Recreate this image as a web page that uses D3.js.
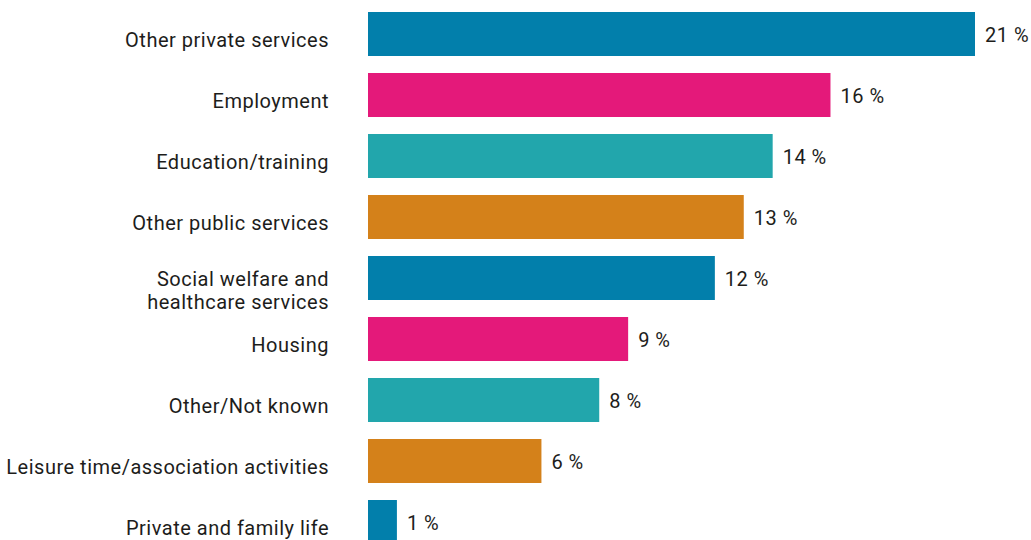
<!DOCTYPE html>
<html>
<head>
<meta charset="utf-8">
<script src="https://cdn.jsdelivr.net/npm/d3@7/dist/d3.min.js"></script>
<style>
  html, body { margin: 0; padding: 0; background: #ffffff; }
  svg { display: block; }
  text { font-family: Roboto, "Open Sans", sans-serif; fill: #1d1d1b; letter-spacing: 0.5px; }
</style>
</head>
<body>
<svg id="chart" width="1031" height="540"></svg>
<script>
// Share of cases by area of life
const categories = [
  "Other private services",
  "Employment",
  "Education/training",
  "Other public services",
  "Social welfare and\nhealthcare services",
  "Housing",
  "Other/Not known",
  "Leisure time/association activities",
  "Private and family life"
];
const values = [21, 16, 14, 13, 12, 9, 8, 6, 1];
const valueLabels = ["21 %", "16 %", "14 %", "13 %", "12 %", "9 %", "8 %", "6 %", "1 %"];
const palette = ["#027fab", "#e4197a", "#22a6ac", "#d4811a"];

const svg = d3.select("#chart");

const x = d3.scaleLinear().domain([0, 21]).range([368, 975]);
const y = d3.scaleBand()
  .domain(categories)
  .range([3.5, 552.5])
  .paddingInner(0.279)
  .paddingOuter(0.1395);

const colour = d3.scaleOrdinal().domain(categories).range(palette);

const rows = categories.map((c, i) => ({ cat: c, value: values[i], label: valueLabels[i] }));

// bars
svg.append("g").selectAll("rect")
  .data(rows)
  .join("rect")
  .attr("x", x(0))
  .attr("y", d => y(d.cat))
  .attr("width", d => x(d.value) - x(0))
  .attr("height", y.bandwidth())
  .attr("fill", d => colour(d.cat));

// value labels
svg.append("g").selectAll("text")
  .data(rows)
  .join("text")
  .attr("x", d => x(d.value) + 10)
  .attr("y", d => y(d.cat) + y.bandwidth() / 2 + 8)
  .attr("font-size", 20)
  .text(d => d.label);

// category labels, right-aligned, multi-line where needed
const catG = svg.append("g");
rows.forEach(d => {
  const lines = d.cat.split("\n");
  const mid = y(d.cat) + y.bandwidth() / 2;
  const t = catG.append("text")
    .attr("text-anchor", "end")
    .attr("font-size", 20);
  const first = lines.length > 1 ? mid + 8 : mid + 13;
  lines.forEach((ln, k) => {
    t.append("tspan")
      .attr("x", 329)
      .attr("y", first + k * 23)
      .text(ln);
  });
});
</script>
</body>
</html>
